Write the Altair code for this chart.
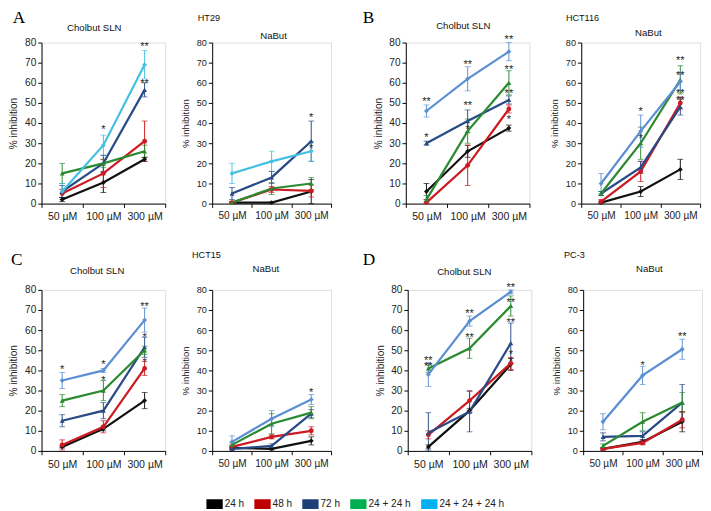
import altair as alt
import pandas as pd

CONCS = ["50 µM", "100 µM", "300 µM"]
SERIES = ["24 h", "48 h", "72 h", "24 + 24 h", "24 + 24 + 24 h"]

LEGEND_COLORS = ["#000000", "#c00000", "#1f3f77", "#00b050", "#00b0f0"]
LINE_COLORS = ["#111111", "#cc1b22", "#284a85", "#2a8a30", "#5b8fd4"]
LINE_COLORS_A = ["#111111", "#cc1b22", "#284a85", "#2a8a30", "#44c0e2"]
SHAPES = ["diamond", "circle", "triangle-up", "triangle-up", "diamond"]

# rows = series (24h, 48h, 72h, 24+24h, 24+24+24h); cols = 50, 100, 300 µM
HT29_SLN_MEAN = [[2, 10.5, 22], [5, 15, 31], [6, 20, 56.5], [15, 20, 26], [6, 29, 69]]
HT29_SLN_ERR = [[1, 5, 1], [2, 7, 10], [3, 4, 3.5], [5, 2, 3], [4, 5, 7]]
HT29_SLN_STARS = [(1, 38, "*"), (2, 79, "**"), (2, 61, "**")]

HT29_NA_MEAN = [[0.5, 0.5, 6], [0.5, 7, 6.3], [5, 13, 31], [0.5, 7.5, 10], [15, 21, 26]]
HT29_NA_ERR = [[0.3, 0.3, 6], [0.5, 1.5, 3], [3, 3, 10], [0.5, 3, 3], [5, 5, 5]]
HT29_NA_STARS = [(2, 44, "*"), (2, 28.5, "*")]

HCT116_SLN_MEAN = [[6, 26, 37.5], [0.5, 19, 47], [30, 41, 51.5], [2, 36, 60], [46, 62, 75.5]]
HCT116_SLN_ERR = [[4, 3, 1.5], [0.5, 10, 2], [1, 5.5, 2], [2, 6, 6], [3, 6, 4.5]]
HCT116_SLN_STARS = [(0, 52, "**"), (0, 34, "*"), (1, 70, "**"), (1, 50, "**"), (1, 38, "*"),
                    (2, 82.5, "**"), (2, 67.5, "**"), (2, 56, "**"), (2, 43, "*")]

HCT116_NA_MEAN = [[0.5, 6, 17], [1, 16, 50], [5, 18, 48], [5, 30, 61.5], [10, 36, 60.5]]
HCT116_NA_ERR = [[0.3, 2.5, 5], [1, 5, 3], [1, 3, 4], [1, 8, 7], [5, 8, 4]]
HCT116_NA_STARS = [(1, 47, "*"), (1, 33.5, "*"), (2, 72, "**"), (2, 65, "**"), (2, 56, "**"), (2, 52.5, "**")]

HCT15_SLN_MEAN = [[2, 11, 25], [3, 12, 41], [15, 20, 51.5], [25, 30, 50], [35, 40, 65]]
HCT15_SLN_ERR = [[0.5, 1, 4], [2.5, 3, 3.5], [3, 4, 5], [3, 5, 2], [4, 1, 6]]
HCT15_SLN_STARS = [(0, 41.5, "*"), (1, 44, "*"), (1, 36, "*"), (2, 73, "**"), (2, 57.5, "*"), (2, 45, "*")]

HCT15_NA_MEAN = [[1.5, 1, 5], [2, 7, 10], [1, 2.5, 18.5], [3, 13.5, 19], [4.5, 16, 25.5]]
HCT15_NA_ERR = [[0.5, 0.5, 2], [1, 1, 2], [0.5, 1, 2], [1, 5, 3], [3, 4, 2.5]]
HCT15_NA_STARS = [(2, 30, "*")]

PC3_SLN_MEAN = [[2, 20, 43], [8, 25, 43.5], [9, 19.5, 53.5], [41, 51, 72], [38, 64.5, 79]]
PC3_SLN_ERR = [[1, 1, 3], [2, 5, 3], [10, 10, 10], [2, 5, 5], [6, 2.5, 1]]
PC3_SLN_STARS = [(0, 46, "**"), (0, 43, "**"), (1, 69.5, "**"), (1, 57.5, "**"),
                 (2, 82.5, "**"), (2, 75, "**"), (2, 65, "**"), (2, 49, "*"), (2, 45.5, "*")]

PC3_NA_MEAN = [[1, 4.5, 14.5], [1, 4, 15.5], [7, 7.5, 24], [2.5, 14.5, 24], [14.5, 37.5, 50.5]]
PC3_NA_ERR = [[0.5, 1, 5], [0.5, 1, 4], [2, 2, 9], [1, 4.5, 5], [4, 4.5, 5]]
PC3_NA_STARS = [(1, 43.5, "*"), (2, 58, "**")]

FONT = "Liberation Sans"


def panel(mean, err, stars, big, colors, title, title_x, title_y,
          letter=None, letter_x=0, letter_y=0, cell=None, cell_x=0, cell_y=0):
    rows = []
    for si, s in enumerate(SERIES):
        for ci, c in enumerate(CONCS):
            m = mean[si][ci]
            e = err[si][ci]
            rows.append({"series": s, "conc": c, "idx": ci, "v": m, "lo": max(0, m - e), "hi": m + e})
    df = pd.DataFrame(rows)
    sdf = pd.DataFrame([{"conc": CONCS[c], "v": y, "t": t} for c, y, t in stars])

    xl = 11 if big else 10.5
    yl = 10.5 if big else 9.5
    yt = 10.5 if big else 10
    w = 129 if big else 124

    xenc = alt.X("conc:N", sort=CONCS, bandPosition=0.5,
                 scale=alt.Scale(type="band", domain=CONCS, paddingInner=0, paddingOuter=0),
                 axis=alt.Axis(title=None, labelAngle=0, tickBand="extent", labelFontSize=xl,
                               tickSize=4, labelPadding=4, domainColor="#000", tickColor="#000",
                               labelColor="#222", labelFont=FONT))
    ys = alt.Scale(domain=[0, 80], nice=False)
    yax = alt.Axis(title="% inhibition", values=list(range(0, 81, 10)), tickSize=4,
                   labelFontSize=yl, titleFontSize=yt, titleFontWeight="normal",
                   titlePadding=6, labelPadding=2, grid=False, domainColor="#000",
                   tickColor="#000", labelColor="#222", titleColor="#222",
                   labelFont=FONT, titleFont=FONT)
    color = alt.Color("series:N", sort=SERIES, scale=alt.Scale(domain=SERIES, range=colors), legend=None)
    base = alt.Chart(df)

    rules = base.mark_rule(strokeWidth=1).encode(
        x=xenc, y=alt.Y("lo:Q", scale=ys, axis=yax), y2="hi:Q", color=color)
    cap_lo = base.mark_tick(thickness=1, size=6).encode(
        x=xenc, y=alt.Y("lo:Q", scale=ys, axis=yax), color=color)
    cap_hi = base.mark_tick(thickness=1, size=6).encode(
        x=xenc, y=alt.Y("hi:Q", scale=ys, axis=yax), color=color)
    line = base.mark_line(strokeWidth=2.3).encode(
        x=xenc, y=alt.Y("v:Q", scale=ys, axis=yax), color=color, order="idx:Q")
    pts = base.mark_point(filled=True, size=26, opacity=1).encode(
        x=xenc, y=alt.Y("v:Q", scale=ys, axis=yax), color=color,
        shape=alt.Shape("series:N", scale=alt.Scale(domain=SERIES, range=SHAPES), legend=None))
    st = alt.Chart(sdf).mark_text(fontSize=11.5, dy=3, fill="#2a2a2a", font=FONT).encode(
        x=xenc, y=alt.Y("v:Q", scale=ys, axis=yax), text="t:N")
    ttl = alt.Chart(pd.DataFrame({"t": [title]})).mark_text(
        fontSize=10, font=FONT, color="#111", align="center", baseline="middle").encode(
        x=alt.value(title_x), y=alt.value(title_y), text="t:N")
    layers = [rules, cap_lo, cap_hi, line, pts, st, ttl]
    if letter:
        layers.append(alt.Chart(pd.DataFrame({"t": [letter]})).mark_text(
            fontSize=18, font="Liberation Serif", color="#000", align="left", baseline="middle").encode(
            x=alt.value(letter_x), y=alt.value(letter_y), text="t:N"))
    if cell:
        layers.append(alt.Chart(pd.DataFrame({"t": [cell]})).mark_text(
            fontSize=9.5, font=FONT, color="#111", align="left", baseline="middle").encode(
            x=alt.value(cell_x), y=alt.value(cell_y), text="t:N"))
    return alt.layer(*layers).properties(width=w, height=168)


A1 = panel(HT29_SLN_MEAN, HT29_SLN_ERR, HT29_SLN_STARS, True, LINE_COLORS_A, "Cholbut SLN", 55, -15,
           letter="A", letter_x=-30, letter_y=-25)
A2 = panel(HT29_NA_MEAN, HT29_NA_ERR, HT29_NA_STARS, False, LINE_COLORS_A, "NaBut", 64, -7,
           cell="HT29", cell_x=-15, cell_y=-25)
B1 = panel(HCT116_SLN_MEAN, HCT116_SLN_ERR, HCT116_SLN_STARS, True, LINE_COLORS, "Cholbut SLN", 60, -17,
           letter="B", letter_x=-45, letter_y=-25)
B2 = panel(HCT116_NA_MEAN, HCT116_NA_ERR, HCT116_NA_STARS, False, LINE_COLORS, "NaBut", 70, -10,
           cell="HCT116", cell_x=-16, cell_y=-25)
C1 = panel(HCT15_SLN_MEAN, HCT15_SLN_ERR, HCT15_SLN_STARS, True, LINE_COLORS, "Cholbut SLN", 58, -20,
           letter="C", letter_x=-32, letter_y=-31)
C2 = panel(HCT15_NA_MEAN, HCT15_NA_ERR, HCT15_NA_STARS, False, LINE_COLORS, "NaBut", 56, -22,
           cell="HCT15", cell_x=-21, cell_y=-36)
D1 = panel(PC3_SLN_MEAN, PC3_SLN_ERR, PC3_SLN_STARS, True, LINE_COLORS, "Cholbut SLN", 59, -19,
           letter="D", letter_x=-47, letter_y=-31)
D2 = panel(PC3_NA_MEAN, PC3_NA_ERR, PC3_NA_STARS, False, LINE_COLORS, "NaBut", 69, -22,
           cell="PC-3", cell_x=-20, cell_y=-36)

legend_chart = alt.Chart(pd.DataFrame({"series": SERIES})).transform_filter("false").mark_square().encode(
    fill=alt.Fill("series:N", sort=SERIES,
                  scale=alt.Scale(domain=SERIES, range=LEGEND_COLORS),
                  legend=alt.Legend(title=None, orient="right", offset=171,
                                    direction="horizontal",
                                    symbolType="M-1,-0.6L1,-0.6L1,0.6L-1,0.6Z",
                                    symbolSize=289, symbolStrokeWidth=0, symbolOpacity=1,
                                    labelFontSize=10.5, labelOffset=2, columnPadding=10,
                                    labelColor="#222", labelFont=FONT, padding=0))
).properties(width=1, height=1)


def pair(a, b, sp):
    return alt.hconcat(a, b, spacing=sp).resolve_scale(color="independent")


row1 = alt.hconcat(pair(A1, A2, 14), pair(B1, B2, 19), spacing=31).resolve_scale(color="independent")
row2 = alt.hconcat(pair(C1, C2, 14), pair(D1, D2, 19), spacing=31).resolve_scale(color="independent")
grid = alt.vconcat(row1, row2, spacing=28).resolve_scale(color="independent")

chart = alt.vconcat(grid, legend_chart, spacing=27).resolve_scale(
    color="independent", fill="independent").properties(
    padding={"left": 0, "top": -10, "right": 0, "bottom": 0}
).configure_view(stroke=None).configure(font=FONT)

chart.save("out.html", embed_options={"renderer": "svg", "actions": False})
